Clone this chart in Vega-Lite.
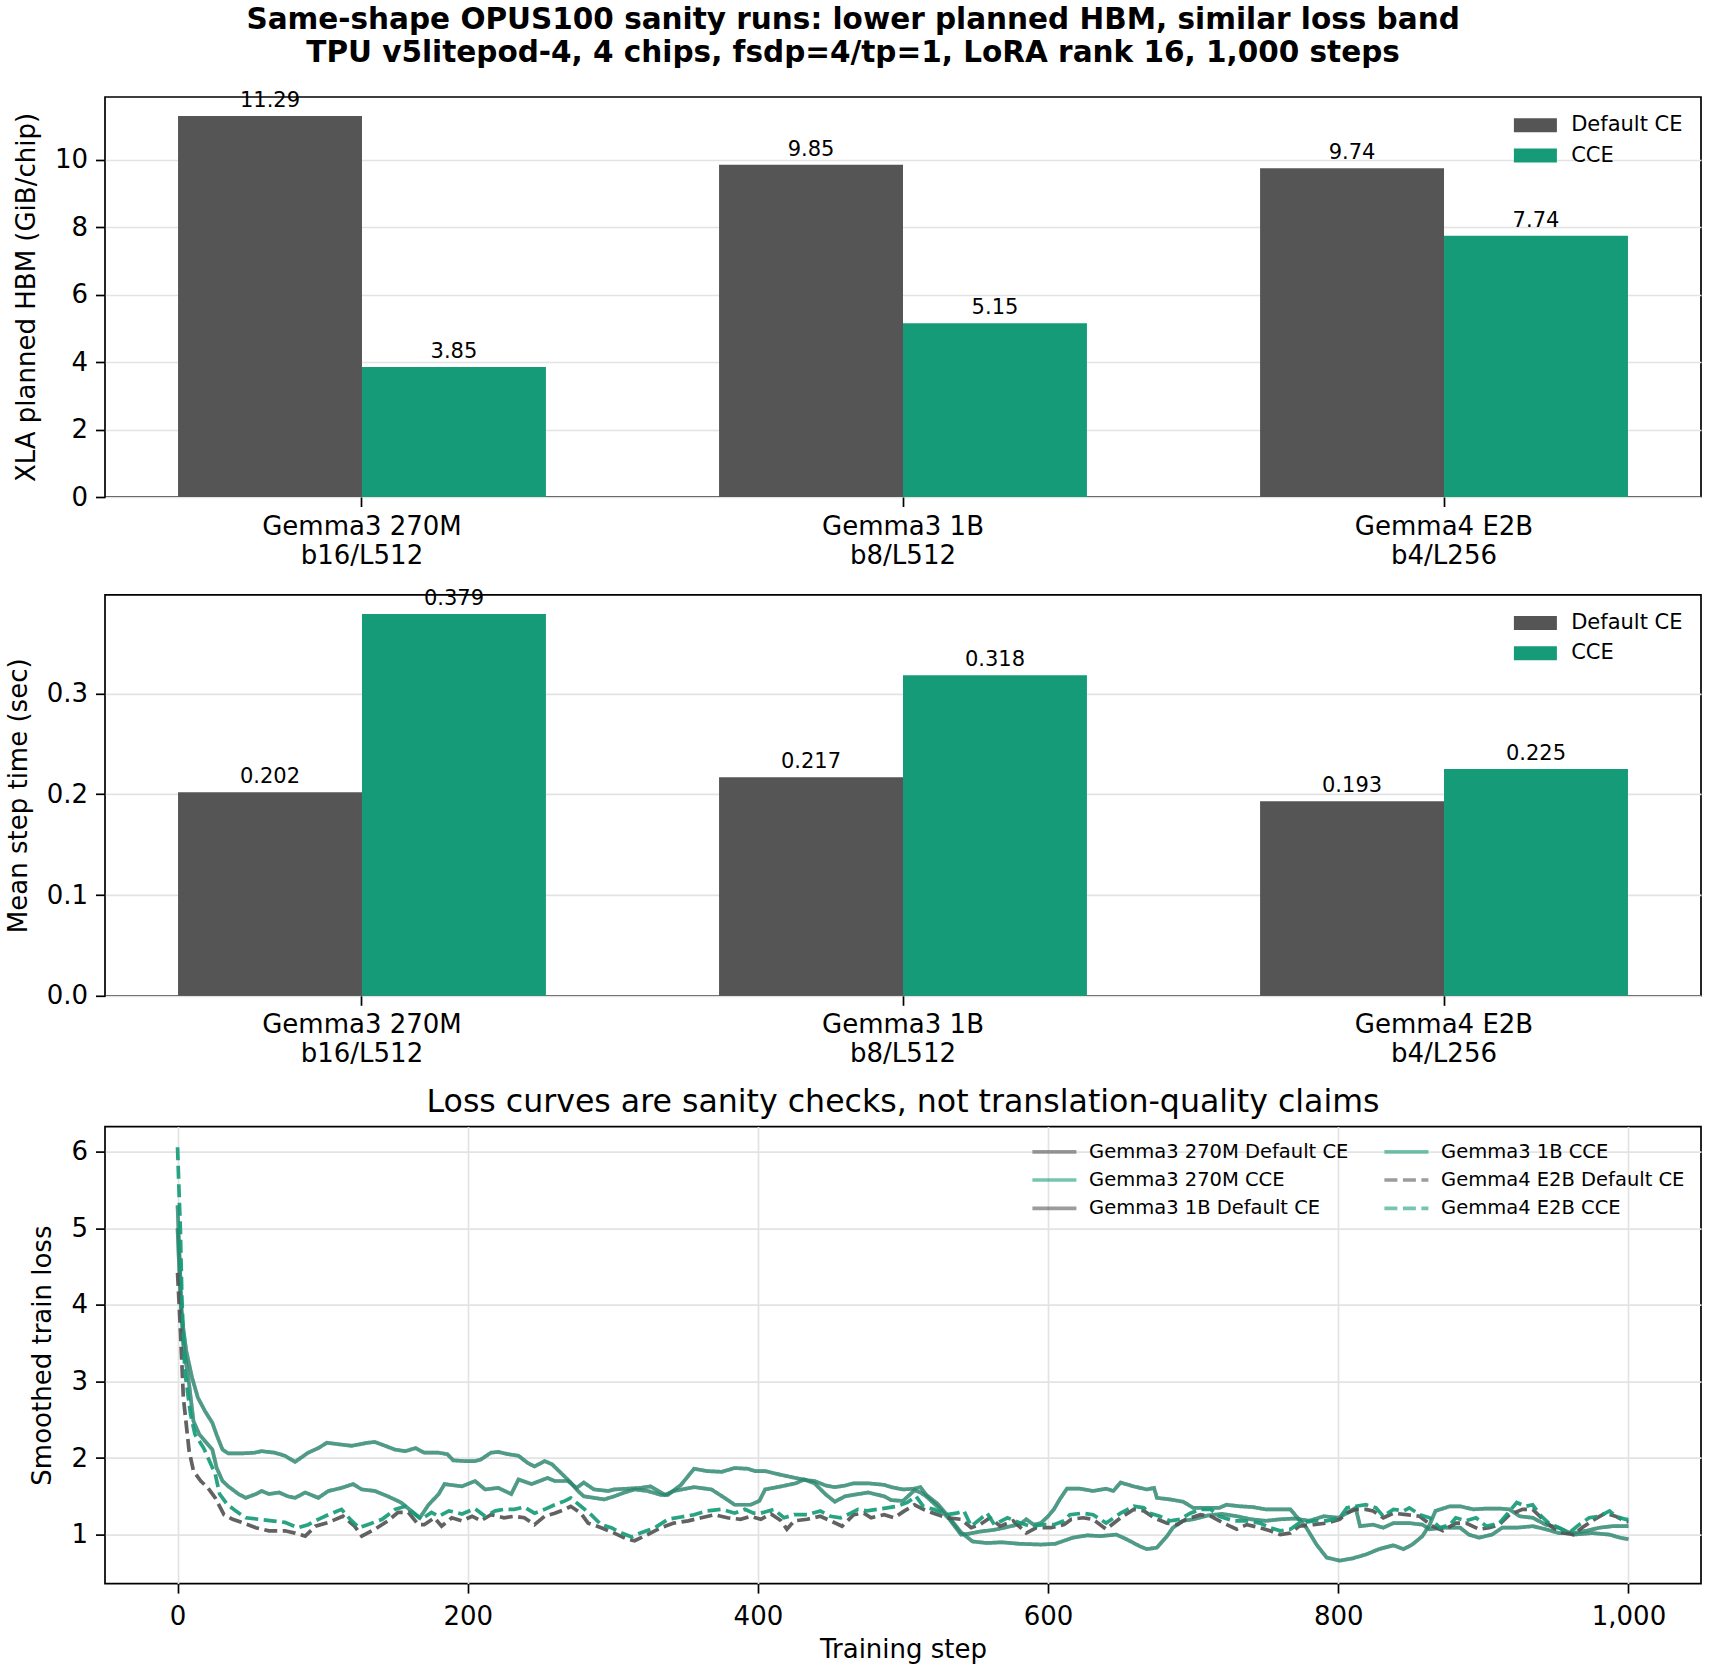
{
"$schema": "https://vega.github.io/schema/vega-lite/v6.json",
"background": "white",
"padding": {"left": 4, "right": 4, "top": 5, "bottom": 2},
"title": {"text": ["Same-shape OPUS100 sanity runs: lower planned HBM, similar loss band", "TPU v5litepod-4, 4 chips, fsdp=4/tp=1, LoRA rank 16, 1,000 steps"], "fontSize": 29.5, "fontWeight": "bold", "font": "DejaVu Sans", "color": "black", "anchor": "middle", "lineHeight": 32.7, "offset": 20.6},
"spacing": 17.8,
"resolve": {"scale": {"x": "independent", "y": "independent", "color": "independent", "xOffset": "independent", "strokeDash": "independent"}, "legend": {"color": "independent", "strokeDash": "independent"}},
"config": {
  "font": "DejaVu Sans",
  "view": {"stroke": "black", "strokeWidth": 1.7},
  "axis": {"labelFont": "DejaVu Sans", "labelFontSize": 26, "labelColor": "black", "labelLimit": 500, "titleFont": "DejaVu Sans", "titleFontSize": 26, "titleFontWeight": "normal", "titleColor": "black", "tickColor": "black", "tickSize": 9.5, "tickWidth": 1.7, "labelPadding": 8, "domain": false, "gridColor": "#e3e3e3", "gridWidth": 1.7, "titlePadding": 15},
  "legend": {"labelFont": "DejaVu Sans", "labelColor": "black", "labelLimit": 600},
  "title": {"font": "DejaVu Sans", "color": "black"}
},
"datasets": {
  "bars": [
    {"model": "Gemma3 270M|b16/L512", "loss_type": "Default CE", "hbm": 11.29, "step_time": 0.202},
    {"model": "Gemma3 270M|b16/L512", "loss_type": "CCE", "hbm": 3.85, "step_time": 0.379},
    {"model": "Gemma3 1B|b8/L512", "loss_type": "Default CE", "hbm": 9.85, "step_time": 0.217},
    {"model": "Gemma3 1B|b8/L512", "loss_type": "CCE", "hbm": 5.15, "step_time": 0.318},
    {"model": "Gemma4 E2B|b4/L256", "loss_type": "Default CE", "hbm": 9.74, "step_time": 0.193},
    {"model": "Gemma4 E2B|b4/L256", "loss_type": "CCE", "hbm": 7.74, "step_time": 0.225}
  ],
  "loss": [
{"series":"Gemma3 270M Default CE","step":0,"loss":5.3},{"series":"Gemma3 270M Default CE","step":3,"loss":3.83},{"series":"Gemma3 270M Default CE","step":6,"loss":3.4},{"series":"Gemma3 270M Default CE","step":10,"loss":3.05},{"series":"Gemma3 270M Default CE","step":14,"loss":2.79},{"series":"Gemma3 270M Default CE","step":19,"loss":2.61},{"series":"Gemma3 270M Default CE","step":24,"loss":2.46},{"series":"Gemma3 270M Default CE","step":27,"loss":2.3},{"series":"Gemma3 270M Default CE","step":31,"loss":2.11},{"series":"Gemma3 270M Default CE","step":35,"loss":2.06},{"series":"Gemma3 270M Default CE","step":44,"loss":2.06},{"series":"Gemma3 270M Default CE","step":53,"loss":2.07},{"series":"Gemma3 270M Default CE","step":58,"loss":2.09},{"series":"Gemma3 270M Default CE","step":67,"loss":2.07},{"series":"Gemma3 270M Default CE","step":74,"loss":2.03},{"series":"Gemma3 270M Default CE","step":81,"loss":1.95},{"series":"Gemma3 270M Default CE","step":90,"loss":2.07},{"series":"Gemma3 270M Default CE","step":97,"loss":2.13},{"series":"Gemma3 270M Default CE","step":103,"loss":2.2},{"series":"Gemma3 270M Default CE","step":111,"loss":2.18},{"series":"Gemma3 270M Default CE","step":120,"loss":2.16},{"series":"Gemma3 270M Default CE","step":131,"loss":2.2},{"series":"Gemma3 270M Default CE","step":136,"loss":2.21},{"series":"Gemma3 270M Default CE","step":143,"loss":2.16},{"series":"Gemma3 270M Default CE","step":150,"loss":2.11},{"series":"Gemma3 270M Default CE","step":157,"loss":2.09},{"series":"Gemma3 270M Default CE","step":164,"loss":2.13},{"series":"Gemma3 270M Default CE","step":170,"loss":2.07},{"series":"Gemma3 270M Default CE","step":180,"loss":2.07},{"series":"Gemma3 270M Default CE","step":186,"loss":2.05},{"series":"Gemma3 270M Default CE","step":190,"loss":1.97},{"series":"Gemma3 270M Default CE","step":198,"loss":1.96},{"series":"Gemma3 270M Default CE","step":205,"loss":1.96},{"series":"Gemma3 270M Default CE","step":209,"loss":1.98},{"series":"Gemma3 270M Default CE","step":216,"loss":2.07},{"series":"Gemma3 270M Default CE","step":221,"loss":2.08},{"series":"Gemma3 270M Default CE","step":228,"loss":2.05},{"series":"Gemma3 270M Default CE","step":235,"loss":2.03},{"series":"Gemma3 270M Default CE","step":241,"loss":1.94},{"series":"Gemma3 270M Default CE","step":246,"loss":1.89},{"series":"Gemma3 270M Default CE","step":253,"loss":1.96},{"series":"Gemma3 270M Default CE","step":258,"loss":1.92},{"series":"Gemma3 270M Default CE","step":264,"loss":1.81},{"series":"Gemma3 270M Default CE","step":271,"loss":1.68},{"series":"Gemma3 270M Default CE","step":276,"loss":1.57},{"series":"Gemma3 270M Default CE","step":280,"loss":1.5},{"series":"Gemma3 270M Default CE","step":287,"loss":1.48},{"series":"Gemma3 270M Default CE","step":294,"loss":1.46},{"series":"Gemma3 270M Default CE","step":301,"loss":1.5},{"series":"Gemma3 270M Default CE","step":308,"loss":1.55},{"series":"Gemma3 270M Default CE","step":315,"loss":1.59},{"series":"Gemma3 270M Default CE","step":324,"loss":1.57},{"series":"Gemma3 270M Default CE","step":333,"loss":1.52},{"series":"Gemma3 270M Default CE","step":338,"loss":1.52},{"series":"Gemma3 270M Default CE","step":347,"loss":1.65},{"series":"Gemma3 270M Default CE","step":356,"loss":1.86},{"series":"Gemma3 270M Default CE","step":365,"loss":1.83},{"series":"Gemma3 270M Default CE","step":375,"loss":1.82},{"series":"Gemma3 270M Default CE","step":384,"loss":1.87},{"series":"Gemma3 270M Default CE","step":393,"loss":1.86},{"series":"Gemma3 270M Default CE","step":398,"loss":1.83},{"series":"Gemma3 270M Default CE","step":405,"loss":1.83},{"series":"Gemma3 270M Default CE","step":416,"loss":1.78},{"series":"Gemma3 270M Default CE","step":426,"loss":1.74},{"series":"Gemma3 270M Default CE","step":434,"loss":1.71},{"series":"Gemma3 270M Default CE","step":439,"loss":1.7},{"series":"Gemma3 270M Default CE","step":447,"loss":1.64},{"series":"Gemma3 270M Default CE","step":453,"loss":1.62},{"series":"Gemma3 270M Default CE","step":460,"loss":1.64},{"series":"Gemma3 270M Default CE","step":466,"loss":1.67},{"series":"Gemma3 270M Default CE","step":476,"loss":1.67},{"series":"Gemma3 270M Default CE","step":487,"loss":1.65},{"series":"Gemma3 270M Default CE","step":492,"loss":1.62},{"series":"Gemma3 270M Default CE","step":500,"loss":1.59},{"series":"Gemma3 270M Default CE","step":508,"loss":1.6},{"series":"Gemma3 270M Default CE","step":512,"loss":1.62},{"series":"Gemma3 270M Default CE","step":516,"loss":1.52},{"series":"Gemma3 270M Default CE","step":524,"loss":1.4},{"series":"Gemma3 270M Default CE","step":532,"loss":1.22},{"series":"Gemma3 270M Default CE","step":540,"loss":1.03},{"series":"Gemma3 270M Default CE","step":548,"loss":0.91},{"series":"Gemma3 270M Default CE","step":558,"loss":0.89},{"series":"Gemma3 270M Default CE","step":568,"loss":0.9},{"series":"Gemma3 270M Default CE","step":580,"loss":0.88},{"series":"Gemma3 270M Default CE","step":595,"loss":0.87},{"series":"Gemma3 270M Default CE","step":605,"loss":0.88},{"series":"Gemma3 270M Default CE","step":617,"loss":0.96},{"series":"Gemma3 270M Default CE","step":627,"loss":0.99},{"series":"Gemma3 270M Default CE","step":636,"loss":0.98},{"series":"Gemma3 270M Default CE","step":647,"loss":1.0},{"series":"Gemma3 270M Default CE","step":654,"loss":0.94},{"series":"Gemma3 270M Default CE","step":663,"loss":0.85},{"series":"Gemma3 270M Default CE","step":668,"loss":0.81},{"series":"Gemma3 270M Default CE","step":675,"loss":0.83},{"series":"Gemma3 270M Default CE","step":682,"loss":0.98},{"series":"Gemma3 270M Default CE","step":686,"loss":1.09},{"series":"Gemma3 270M Default CE","step":693,"loss":1.18},{"series":"Gemma3 270M Default CE","step":700,"loss":1.2},{"series":"Gemma3 270M Default CE","step":710,"loss":1.25},{"series":"Gemma3 270M Default CE","step":720,"loss":1.27},{"series":"Gemma3 270M Default CE","step":730,"loss":1.24},{"series":"Gemma3 270M Default CE","step":740,"loss":1.2},{"series":"Gemma3 270M Default CE","step":750,"loss":1.18},{"series":"Gemma3 270M Default CE","step":760,"loss":1.2},{"series":"Gemma3 270M Default CE","step":770,"loss":1.21},{"series":"Gemma3 270M Default CE","step":780,"loss":1.18},{"series":"Gemma3 270M Default CE","step":790,"loss":1.24},{"series":"Gemma3 270M Default CE","step":800,"loss":1.22},{"series":"Gemma3 270M Default CE","step":805,"loss":1.27},{"series":"Gemma3 270M Default CE","step":812,"loss":1.35},{"series":"Gemma3 270M Default CE","step":815,"loss":1.11},{"series":"Gemma3 270M Default CE","step":824,"loss":1.13},{"series":"Gemma3 270M Default CE","step":831,"loss":1.09},{"series":"Gemma3 270M Default CE","step":838,"loss":1.15},{"series":"Gemma3 270M Default CE","step":849,"loss":1.15},{"series":"Gemma3 270M Default CE","step":858,"loss":1.13},{"series":"Gemma3 270M Default CE","step":863,"loss":1.07},{"series":"Gemma3 270M Default CE","step":872,"loss":1.09},{"series":"Gemma3 270M Default CE","step":884,"loss":1.09},{"series":"Gemma3 270M Default CE","step":890,"loss":1.0},{"series":"Gemma3 270M Default CE","step":897,"loss":0.96},{"series":"Gemma3 270M Default CE","step":906,"loss":1.0},{"series":"Gemma3 270M Default CE","step":913,"loss":1.09},{"series":"Gemma3 270M Default CE","step":923,"loss":1.09},{"series":"Gemma3 270M Default CE","step":934,"loss":1.11},{"series":"Gemma3 270M Default CE","step":943,"loss":1.07},{"series":"Gemma3 270M Default CE","step":952,"loss":1.02},{"series":"Gemma3 270M Default CE","step":962,"loss":1.02},{"series":"Gemma3 270M Default CE","step":971,"loss":1.05},{"series":"Gemma3 270M Default CE","step":980,"loss":1.09},{"series":"Gemma3 270M Default CE","step":989,"loss":1.11},{"series":"Gemma3 270M Default CE","step":1000,"loss":1.11},
{"series":"Gemma3 270M CCE","step":0,"loss":5.3},{"series":"Gemma3 270M CCE","step":3,"loss":3.83},{"series":"Gemma3 270M CCE","step":6,"loss":3.4},{"series":"Gemma3 270M CCE","step":10,"loss":3.05},{"series":"Gemma3 270M CCE","step":14,"loss":2.79},{"series":"Gemma3 270M CCE","step":19,"loss":2.61},{"series":"Gemma3 270M CCE","step":24,"loss":2.46},{"series":"Gemma3 270M CCE","step":27,"loss":2.3},{"series":"Gemma3 270M CCE","step":31,"loss":2.11},{"series":"Gemma3 270M CCE","step":35,"loss":2.06},{"series":"Gemma3 270M CCE","step":44,"loss":2.06},{"series":"Gemma3 270M CCE","step":53,"loss":2.07},{"series":"Gemma3 270M CCE","step":58,"loss":2.09},{"series":"Gemma3 270M CCE","step":67,"loss":2.07},{"series":"Gemma3 270M CCE","step":74,"loss":2.03},{"series":"Gemma3 270M CCE","step":81,"loss":1.95},{"series":"Gemma3 270M CCE","step":90,"loss":2.07},{"series":"Gemma3 270M CCE","step":97,"loss":2.13},{"series":"Gemma3 270M CCE","step":103,"loss":2.2},{"series":"Gemma3 270M CCE","step":111,"loss":2.18},{"series":"Gemma3 270M CCE","step":120,"loss":2.16},{"series":"Gemma3 270M CCE","step":131,"loss":2.2},{"series":"Gemma3 270M CCE","step":136,"loss":2.21},{"series":"Gemma3 270M CCE","step":143,"loss":2.16},{"series":"Gemma3 270M CCE","step":150,"loss":2.11},{"series":"Gemma3 270M CCE","step":157,"loss":2.09},{"series":"Gemma3 270M CCE","step":164,"loss":2.13},{"series":"Gemma3 270M CCE","step":170,"loss":2.07},{"series":"Gemma3 270M CCE","step":180,"loss":2.07},{"series":"Gemma3 270M CCE","step":186,"loss":2.05},{"series":"Gemma3 270M CCE","step":190,"loss":1.97},{"series":"Gemma3 270M CCE","step":198,"loss":1.96},{"series":"Gemma3 270M CCE","step":205,"loss":1.96},{"series":"Gemma3 270M CCE","step":209,"loss":1.98},{"series":"Gemma3 270M CCE","step":216,"loss":2.07},{"series":"Gemma3 270M CCE","step":221,"loss":2.08},{"series":"Gemma3 270M CCE","step":228,"loss":2.05},{"series":"Gemma3 270M CCE","step":235,"loss":2.03},{"series":"Gemma3 270M CCE","step":241,"loss":1.94},{"series":"Gemma3 270M CCE","step":246,"loss":1.89},{"series":"Gemma3 270M CCE","step":253,"loss":1.96},{"series":"Gemma3 270M CCE","step":258,"loss":1.92},{"series":"Gemma3 270M CCE","step":264,"loss":1.81},{"series":"Gemma3 270M CCE","step":271,"loss":1.68},{"series":"Gemma3 270M CCE","step":276,"loss":1.57},{"series":"Gemma3 270M CCE","step":280,"loss":1.5},{"series":"Gemma3 270M CCE","step":287,"loss":1.48},{"series":"Gemma3 270M CCE","step":294,"loss":1.46},{"series":"Gemma3 270M CCE","step":301,"loss":1.5},{"series":"Gemma3 270M CCE","step":308,"loss":1.55},{"series":"Gemma3 270M CCE","step":315,"loss":1.59},{"series":"Gemma3 270M CCE","step":324,"loss":1.57},{"series":"Gemma3 270M CCE","step":333,"loss":1.52},{"series":"Gemma3 270M CCE","step":338,"loss":1.52},{"series":"Gemma3 270M CCE","step":347,"loss":1.65},{"series":"Gemma3 270M CCE","step":356,"loss":1.86},{"series":"Gemma3 270M CCE","step":365,"loss":1.83},{"series":"Gemma3 270M CCE","step":375,"loss":1.82},{"series":"Gemma3 270M CCE","step":384,"loss":1.87},{"series":"Gemma3 270M CCE","step":393,"loss":1.86},{"series":"Gemma3 270M CCE","step":398,"loss":1.83},{"series":"Gemma3 270M CCE","step":405,"loss":1.83},{"series":"Gemma3 270M CCE","step":416,"loss":1.78},{"series":"Gemma3 270M CCE","step":426,"loss":1.74},{"series":"Gemma3 270M CCE","step":434,"loss":1.71},{"series":"Gemma3 270M CCE","step":439,"loss":1.7},{"series":"Gemma3 270M CCE","step":447,"loss":1.64},{"series":"Gemma3 270M CCE","step":453,"loss":1.62},{"series":"Gemma3 270M CCE","step":460,"loss":1.64},{"series":"Gemma3 270M CCE","step":466,"loss":1.67},{"series":"Gemma3 270M CCE","step":476,"loss":1.67},{"series":"Gemma3 270M CCE","step":487,"loss":1.65},{"series":"Gemma3 270M CCE","step":492,"loss":1.62},{"series":"Gemma3 270M CCE","step":500,"loss":1.59},{"series":"Gemma3 270M CCE","step":508,"loss":1.6},{"series":"Gemma3 270M CCE","step":512,"loss":1.62},{"series":"Gemma3 270M CCE","step":516,"loss":1.52},{"series":"Gemma3 270M CCE","step":524,"loss":1.4},{"series":"Gemma3 270M CCE","step":532,"loss":1.22},{"series":"Gemma3 270M CCE","step":540,"loss":1.03},{"series":"Gemma3 270M CCE","step":548,"loss":0.91},{"series":"Gemma3 270M CCE","step":558,"loss":0.89},{"series":"Gemma3 270M CCE","step":568,"loss":0.9},{"series":"Gemma3 270M CCE","step":580,"loss":0.88},{"series":"Gemma3 270M CCE","step":595,"loss":0.87},{"series":"Gemma3 270M CCE","step":605,"loss":0.88},{"series":"Gemma3 270M CCE","step":617,"loss":0.96},{"series":"Gemma3 270M CCE","step":627,"loss":0.99},{"series":"Gemma3 270M CCE","step":636,"loss":0.98},{"series":"Gemma3 270M CCE","step":647,"loss":1.0},{"series":"Gemma3 270M CCE","step":654,"loss":0.94},{"series":"Gemma3 270M CCE","step":663,"loss":0.85},{"series":"Gemma3 270M CCE","step":668,"loss":0.81},{"series":"Gemma3 270M CCE","step":675,"loss":0.83},{"series":"Gemma3 270M CCE","step":682,"loss":0.98},{"series":"Gemma3 270M CCE","step":686,"loss":1.09},{"series":"Gemma3 270M CCE","step":693,"loss":1.18},{"series":"Gemma3 270M CCE","step":700,"loss":1.2},{"series":"Gemma3 270M CCE","step":710,"loss":1.25},{"series":"Gemma3 270M CCE","step":720,"loss":1.27},{"series":"Gemma3 270M CCE","step":730,"loss":1.24},{"series":"Gemma3 270M CCE","step":740,"loss":1.2},{"series":"Gemma3 270M CCE","step":750,"loss":1.18},{"series":"Gemma3 270M CCE","step":760,"loss":1.2},{"series":"Gemma3 270M CCE","step":770,"loss":1.21},{"series":"Gemma3 270M CCE","step":780,"loss":1.18},{"series":"Gemma3 270M CCE","step":790,"loss":1.24},{"series":"Gemma3 270M CCE","step":800,"loss":1.22},{"series":"Gemma3 270M CCE","step":805,"loss":1.27},{"series":"Gemma3 270M CCE","step":812,"loss":1.35},{"series":"Gemma3 270M CCE","step":815,"loss":1.11},{"series":"Gemma3 270M CCE","step":824,"loss":1.13},{"series":"Gemma3 270M CCE","step":831,"loss":1.09},{"series":"Gemma3 270M CCE","step":838,"loss":1.15},{"series":"Gemma3 270M CCE","step":849,"loss":1.15},{"series":"Gemma3 270M CCE","step":858,"loss":1.13},{"series":"Gemma3 270M CCE","step":863,"loss":1.07},{"series":"Gemma3 270M CCE","step":872,"loss":1.09},{"series":"Gemma3 270M CCE","step":884,"loss":1.09},{"series":"Gemma3 270M CCE","step":890,"loss":1.0},{"series":"Gemma3 270M CCE","step":897,"loss":0.96},{"series":"Gemma3 270M CCE","step":906,"loss":1.0},{"series":"Gemma3 270M CCE","step":913,"loss":1.09},{"series":"Gemma3 270M CCE","step":923,"loss":1.09},{"series":"Gemma3 270M CCE","step":934,"loss":1.11},{"series":"Gemma3 270M CCE","step":943,"loss":1.07},{"series":"Gemma3 270M CCE","step":952,"loss":1.02},{"series":"Gemma3 270M CCE","step":962,"loss":1.02},{"series":"Gemma3 270M CCE","step":971,"loss":1.05},{"series":"Gemma3 270M CCE","step":980,"loss":1.09},{"series":"Gemma3 270M CCE","step":989,"loss":1.11},{"series":"Gemma3 270M CCE","step":1000,"loss":1.11},
{"series":"Gemma3 1B Default CE","step":0,"loss":5.0},{"series":"Gemma3 1B Default CE","step":2,"loss":4.09},{"series":"Gemma3 1B Default CE","step":4,"loss":3.48},{"series":"Gemma3 1B Default CE","step":8,"loss":2.96},{"series":"Gemma3 1B Default CE","step":11,"loss":2.48},{"series":"Gemma3 1B Default CE","step":15,"loss":2.31},{"series":"Gemma3 1B Default CE","step":19,"loss":2.22},{"series":"Gemma3 1B Default CE","step":24,"loss":2.11},{"series":"Gemma3 1B Default CE","step":27,"loss":1.87},{"series":"Gemma3 1B Default CE","step":31,"loss":1.7},{"series":"Gemma3 1B Default CE","step":35,"loss":1.63},{"series":"Gemma3 1B Default CE","step":42,"loss":1.53},{"series":"Gemma3 1B Default CE","step":47,"loss":1.48},{"series":"Gemma3 1B Default CE","step":54,"loss":1.53},{"series":"Gemma3 1B Default CE","step":58,"loss":1.57},{"series":"Gemma3 1B Default CE","step":63,"loss":1.53},{"series":"Gemma3 1B Default CE","step":70,"loss":1.55},{"series":"Gemma3 1B Default CE","step":76,"loss":1.5},{"series":"Gemma3 1B Default CE","step":81,"loss":1.48},{"series":"Gemma3 1B Default CE","step":88,"loss":1.55},{"series":"Gemma3 1B Default CE","step":97,"loss":1.48},{"series":"Gemma3 1B Default CE","step":104,"loss":1.57},{"series":"Gemma3 1B Default CE","step":113,"loss":1.61},{"series":"Gemma3 1B Default CE","step":121,"loss":1.66},{"series":"Gemma3 1B Default CE","step":127,"loss":1.59},{"series":"Gemma3 1B Default CE","step":136,"loss":1.57},{"series":"Gemma3 1B Default CE","step":145,"loss":1.5},{"series":"Gemma3 1B Default CE","step":154,"loss":1.42},{"series":"Gemma3 1B Default CE","step":161,"loss":1.31},{"series":"Gemma3 1B Default CE","step":167,"loss":1.22},{"series":"Gemma3 1B Default CE","step":173,"loss":1.39},{"series":"Gemma3 1B Default CE","step":180,"loss":1.53},{"series":"Gemma3 1B Default CE","step":184,"loss":1.66},{"series":"Gemma3 1B Default CE","step":196,"loss":1.63},{"series":"Gemma3 1B Default CE","step":205,"loss":1.7},{"series":"Gemma3 1B Default CE","step":212,"loss":1.59},{"series":"Gemma3 1B Default CE","step":221,"loss":1.61},{"series":"Gemma3 1B Default CE","step":230,"loss":1.53},{"series":"Gemma3 1B Default CE","step":235,"loss":1.72},{"series":"Gemma3 1B Default CE","step":244,"loss":1.66},{"series":"Gemma3 1B Default CE","step":255,"loss":1.74},{"series":"Gemma3 1B Default CE","step":260,"loss":1.7},{"series":"Gemma3 1B Default CE","step":269,"loss":1.7},{"series":"Gemma3 1B Default CE","step":275,"loss":1.61},{"series":"Gemma3 1B Default CE","step":280,"loss":1.68},{"series":"Gemma3 1B Default CE","step":287,"loss":1.59},{"series":"Gemma3 1B Default CE","step":297,"loss":1.57},{"series":"Gemma3 1B Default CE","step":301,"loss":1.59},{"series":"Gemma3 1B Default CE","step":310,"loss":1.6},{"series":"Gemma3 1B Default CE","step":319,"loss":1.61},{"series":"Gemma3 1B Default CE","step":326,"loss":1.63},{"series":"Gemma3 1B Default CE","step":336,"loss":1.52},{"series":"Gemma3 1B Default CE","step":342,"loss":1.57},{"series":"Gemma3 1B Default CE","step":356,"loss":1.62},{"series":"Gemma3 1B Default CE","step":368,"loss":1.59},{"series":"Gemma3 1B Default CE","step":377,"loss":1.48},{"series":"Gemma3 1B Default CE","step":384,"loss":1.39},{"series":"Gemma3 1B Default CE","step":395,"loss":1.39},{"series":"Gemma3 1B Default CE","step":401,"loss":1.44},{"series":"Gemma3 1B Default CE","step":405,"loss":1.59},{"series":"Gemma3 1B Default CE","step":416,"loss":1.63},{"series":"Gemma3 1B Default CE","step":426,"loss":1.67},{"series":"Gemma3 1B Default CE","step":432,"loss":1.72},{"series":"Gemma3 1B Default CE","step":439,"loss":1.67},{"series":"Gemma3 1B Default CE","step":447,"loss":1.52},{"series":"Gemma3 1B Default CE","step":453,"loss":1.43},{"series":"Gemma3 1B Default CE","step":460,"loss":1.5},{"series":"Gemma3 1B Default CE","step":466,"loss":1.52},{"series":"Gemma3 1B Default CE","step":476,"loss":1.55},{"series":"Gemma3 1B Default CE","step":487,"loss":1.5},{"series":"Gemma3 1B Default CE","step":492,"loss":1.45},{"series":"Gemma3 1B Default CE","step":500,"loss":1.44},{"series":"Gemma3 1B Default CE","step":508,"loss":1.58},{"series":"Gemma3 1B Default CE","step":512,"loss":1.55},{"series":"Gemma3 1B Default CE","step":516,"loss":1.5},{"series":"Gemma3 1B Default CE","step":524,"loss":1.36},{"series":"Gemma3 1B Default CE","step":532,"loss":1.2},{"series":"Gemma3 1B Default CE","step":540,"loss":1.0},{"series":"Gemma3 1B Default CE","step":545,"loss":1.01},{"series":"Gemma3 1B Default CE","step":553,"loss":1.04},{"series":"Gemma3 1B Default CE","step":562,"loss":1.06},{"series":"Gemma3 1B Default CE","step":570,"loss":1.09},{"series":"Gemma3 1B Default CE","step":581,"loss":1.14},{"series":"Gemma3 1B Default CE","step":585,"loss":1.2},{"series":"Gemma3 1B Default CE","step":590,"loss":1.13},{"series":"Gemma3 1B Default CE","step":595,"loss":1.15},{"series":"Gemma3 1B Default CE","step":600,"loss":1.24},{"series":"Gemma3 1B Default CE","step":604,"loss":1.33},{"series":"Gemma3 1B Default CE","step":608,"loss":1.46},{"series":"Gemma3 1B Default CE","step":613,"loss":1.6},{"series":"Gemma3 1B Default CE","step":622,"loss":1.6},{"series":"Gemma3 1B Default CE","step":631,"loss":1.57},{"series":"Gemma3 1B Default CE","step":640,"loss":1.6},{"series":"Gemma3 1B Default CE","step":645,"loss":1.57},{"series":"Gemma3 1B Default CE","step":650,"loss":1.68},{"series":"Gemma3 1B Default CE","step":659,"loss":1.63},{"series":"Gemma3 1B Default CE","step":668,"loss":1.59},{"series":"Gemma3 1B Default CE","step":673,"loss":1.61},{"series":"Gemma3 1B Default CE","step":675,"loss":1.48},{"series":"Gemma3 1B Default CE","step":684,"loss":1.46},{"series":"Gemma3 1B Default CE","step":693,"loss":1.43},{"series":"Gemma3 1B Default CE","step":700,"loss":1.35},{"series":"Gemma3 1B Default CE","step":709,"loss":1.35},{"series":"Gemma3 1B Default CE","step":718,"loss":1.35},{"series":"Gemma3 1B Default CE","step":723,"loss":1.39},{"series":"Gemma3 1B Default CE","step":732,"loss":1.37},{"series":"Gemma3 1B Default CE","step":741,"loss":1.36},{"series":"Gemma3 1B Default CE","step":750,"loss":1.33},{"series":"Gemma3 1B Default CE","step":760,"loss":1.33},{"series":"Gemma3 1B Default CE","step":767,"loss":1.33},{"series":"Gemma3 1B Default CE","step":771,"loss":1.24},{"series":"Gemma3 1B Default CE","step":778,"loss":1.09},{"series":"Gemma3 1B Default CE","step":785,"loss":0.87},{"series":"Gemma3 1B Default CE","step":792,"loss":0.7},{"series":"Gemma3 1B Default CE","step":801,"loss":0.66},{"series":"Gemma3 1B Default CE","step":810,"loss":0.69},{"series":"Gemma3 1B Default CE","step":819,"loss":0.74},{"series":"Gemma3 1B Default CE","step":828,"loss":0.81},{"series":"Gemma3 1B Default CE","step":838,"loss":0.86},{"series":"Gemma3 1B Default CE","step":845,"loss":0.81},{"series":"Gemma3 1B Default CE","step":851,"loss":0.87},{"series":"Gemma3 1B Default CE","step":858,"loss":0.98},{"series":"Gemma3 1B Default CE","step":863,"loss":1.13},{"series":"Gemma3 1B Default CE","step":867,"loss":1.31},{"series":"Gemma3 1B Default CE","step":877,"loss":1.37},{"series":"Gemma3 1B Default CE","step":884,"loss":1.37},{"series":"Gemma3 1B Default CE","step":893,"loss":1.33},{"series":"Gemma3 1B Default CE","step":902,"loss":1.34},{"series":"Gemma3 1B Default CE","step":911,"loss":1.34},{"series":"Gemma3 1B Default CE","step":918,"loss":1.33},{"series":"Gemma3 1B Default CE","step":925,"loss":1.24},{"series":"Gemma3 1B Default CE","step":934,"loss":1.22},{"series":"Gemma3 1B Default CE","step":943,"loss":1.13},{"series":"Gemma3 1B Default CE","step":952,"loss":1.09},{"series":"Gemma3 1B Default CE","step":962,"loss":1.0},{"series":"Gemma3 1B Default CE","step":975,"loss":1.02},{"series":"Gemma3 1B Default CE","step":987,"loss":1.0},{"series":"Gemma3 1B Default CE","step":994,"loss":0.96},{"series":"Gemma3 1B Default CE","step":1000,"loss":0.94},
{"series":"Gemma3 1B CCE","step":0,"loss":5.0},{"series":"Gemma3 1B CCE","step":2,"loss":4.09},{"series":"Gemma3 1B CCE","step":4,"loss":3.48},{"series":"Gemma3 1B CCE","step":8,"loss":2.96},{"series":"Gemma3 1B CCE","step":11,"loss":2.48},{"series":"Gemma3 1B CCE","step":15,"loss":2.31},{"series":"Gemma3 1B CCE","step":19,"loss":2.22},{"series":"Gemma3 1B CCE","step":24,"loss":2.11},{"series":"Gemma3 1B CCE","step":27,"loss":1.87},{"series":"Gemma3 1B CCE","step":31,"loss":1.7},{"series":"Gemma3 1B CCE","step":35,"loss":1.63},{"series":"Gemma3 1B CCE","step":42,"loss":1.53},{"series":"Gemma3 1B CCE","step":47,"loss":1.48},{"series":"Gemma3 1B CCE","step":54,"loss":1.53},{"series":"Gemma3 1B CCE","step":58,"loss":1.57},{"series":"Gemma3 1B CCE","step":63,"loss":1.53},{"series":"Gemma3 1B CCE","step":70,"loss":1.55},{"series":"Gemma3 1B CCE","step":76,"loss":1.5},{"series":"Gemma3 1B CCE","step":81,"loss":1.48},{"series":"Gemma3 1B CCE","step":88,"loss":1.55},{"series":"Gemma3 1B CCE","step":97,"loss":1.48},{"series":"Gemma3 1B CCE","step":104,"loss":1.57},{"series":"Gemma3 1B CCE","step":113,"loss":1.61},{"series":"Gemma3 1B CCE","step":121,"loss":1.66},{"series":"Gemma3 1B CCE","step":127,"loss":1.59},{"series":"Gemma3 1B CCE","step":136,"loss":1.57},{"series":"Gemma3 1B CCE","step":145,"loss":1.5},{"series":"Gemma3 1B CCE","step":154,"loss":1.42},{"series":"Gemma3 1B CCE","step":161,"loss":1.31},{"series":"Gemma3 1B CCE","step":167,"loss":1.22},{"series":"Gemma3 1B CCE","step":173,"loss":1.39},{"series":"Gemma3 1B CCE","step":180,"loss":1.53},{"series":"Gemma3 1B CCE","step":184,"loss":1.66},{"series":"Gemma3 1B CCE","step":196,"loss":1.63},{"series":"Gemma3 1B CCE","step":205,"loss":1.7},{"series":"Gemma3 1B CCE","step":212,"loss":1.59},{"series":"Gemma3 1B CCE","step":221,"loss":1.61},{"series":"Gemma3 1B CCE","step":230,"loss":1.53},{"series":"Gemma3 1B CCE","step":235,"loss":1.72},{"series":"Gemma3 1B CCE","step":244,"loss":1.66},{"series":"Gemma3 1B CCE","step":255,"loss":1.74},{"series":"Gemma3 1B CCE","step":260,"loss":1.7},{"series":"Gemma3 1B CCE","step":269,"loss":1.7},{"series":"Gemma3 1B CCE","step":275,"loss":1.61},{"series":"Gemma3 1B CCE","step":280,"loss":1.68},{"series":"Gemma3 1B CCE","step":287,"loss":1.59},{"series":"Gemma3 1B CCE","step":297,"loss":1.57},{"series":"Gemma3 1B CCE","step":301,"loss":1.59},{"series":"Gemma3 1B CCE","step":310,"loss":1.6},{"series":"Gemma3 1B CCE","step":319,"loss":1.61},{"series":"Gemma3 1B CCE","step":326,"loss":1.63},{"series":"Gemma3 1B CCE","step":336,"loss":1.52},{"series":"Gemma3 1B CCE","step":342,"loss":1.57},{"series":"Gemma3 1B CCE","step":356,"loss":1.62},{"series":"Gemma3 1B CCE","step":368,"loss":1.59},{"series":"Gemma3 1B CCE","step":377,"loss":1.48},{"series":"Gemma3 1B CCE","step":384,"loss":1.39},{"series":"Gemma3 1B CCE","step":395,"loss":1.39},{"series":"Gemma3 1B CCE","step":401,"loss":1.44},{"series":"Gemma3 1B CCE","step":405,"loss":1.59},{"series":"Gemma3 1B CCE","step":416,"loss":1.63},{"series":"Gemma3 1B CCE","step":426,"loss":1.67},{"series":"Gemma3 1B CCE","step":432,"loss":1.72},{"series":"Gemma3 1B CCE","step":439,"loss":1.67},{"series":"Gemma3 1B CCE","step":447,"loss":1.52},{"series":"Gemma3 1B CCE","step":453,"loss":1.43},{"series":"Gemma3 1B CCE","step":460,"loss":1.5},{"series":"Gemma3 1B CCE","step":466,"loss":1.52},{"series":"Gemma3 1B CCE","step":476,"loss":1.55},{"series":"Gemma3 1B CCE","step":487,"loss":1.5},{"series":"Gemma3 1B CCE","step":492,"loss":1.45},{"series":"Gemma3 1B CCE","step":500,"loss":1.44},{"series":"Gemma3 1B CCE","step":508,"loss":1.58},{"series":"Gemma3 1B CCE","step":512,"loss":1.55},{"series":"Gemma3 1B CCE","step":516,"loss":1.5},{"series":"Gemma3 1B CCE","step":524,"loss":1.36},{"series":"Gemma3 1B CCE","step":532,"loss":1.2},{"series":"Gemma3 1B CCE","step":540,"loss":1.0},{"series":"Gemma3 1B CCE","step":545,"loss":1.01},{"series":"Gemma3 1B CCE","step":553,"loss":1.04},{"series":"Gemma3 1B CCE","step":562,"loss":1.06},{"series":"Gemma3 1B CCE","step":570,"loss":1.09},{"series":"Gemma3 1B CCE","step":581,"loss":1.14},{"series":"Gemma3 1B CCE","step":585,"loss":1.2},{"series":"Gemma3 1B CCE","step":590,"loss":1.13},{"series":"Gemma3 1B CCE","step":595,"loss":1.15},{"series":"Gemma3 1B CCE","step":600,"loss":1.24},{"series":"Gemma3 1B CCE","step":604,"loss":1.33},{"series":"Gemma3 1B CCE","step":608,"loss":1.46},{"series":"Gemma3 1B CCE","step":613,"loss":1.6},{"series":"Gemma3 1B CCE","step":622,"loss":1.6},{"series":"Gemma3 1B CCE","step":631,"loss":1.57},{"series":"Gemma3 1B CCE","step":640,"loss":1.6},{"series":"Gemma3 1B CCE","step":645,"loss":1.57},{"series":"Gemma3 1B CCE","step":650,"loss":1.68},{"series":"Gemma3 1B CCE","step":659,"loss":1.63},{"series":"Gemma3 1B CCE","step":668,"loss":1.59},{"series":"Gemma3 1B CCE","step":673,"loss":1.61},{"series":"Gemma3 1B CCE","step":675,"loss":1.48},{"series":"Gemma3 1B CCE","step":684,"loss":1.46},{"series":"Gemma3 1B CCE","step":693,"loss":1.43},{"series":"Gemma3 1B CCE","step":700,"loss":1.35},{"series":"Gemma3 1B CCE","step":709,"loss":1.35},{"series":"Gemma3 1B CCE","step":718,"loss":1.35},{"series":"Gemma3 1B CCE","step":723,"loss":1.39},{"series":"Gemma3 1B CCE","step":732,"loss":1.37},{"series":"Gemma3 1B CCE","step":741,"loss":1.36},{"series":"Gemma3 1B CCE","step":750,"loss":1.33},{"series":"Gemma3 1B CCE","step":760,"loss":1.33},{"series":"Gemma3 1B CCE","step":767,"loss":1.33},{"series":"Gemma3 1B CCE","step":771,"loss":1.24},{"series":"Gemma3 1B CCE","step":778,"loss":1.09},{"series":"Gemma3 1B CCE","step":785,"loss":0.87},{"series":"Gemma3 1B CCE","step":792,"loss":0.7},{"series":"Gemma3 1B CCE","step":801,"loss":0.66},{"series":"Gemma3 1B CCE","step":810,"loss":0.69},{"series":"Gemma3 1B CCE","step":819,"loss":0.74},{"series":"Gemma3 1B CCE","step":828,"loss":0.81},{"series":"Gemma3 1B CCE","step":838,"loss":0.86},{"series":"Gemma3 1B CCE","step":845,"loss":0.81},{"series":"Gemma3 1B CCE","step":851,"loss":0.87},{"series":"Gemma3 1B CCE","step":858,"loss":0.98},{"series":"Gemma3 1B CCE","step":863,"loss":1.13},{"series":"Gemma3 1B CCE","step":867,"loss":1.31},{"series":"Gemma3 1B CCE","step":877,"loss":1.37},{"series":"Gemma3 1B CCE","step":884,"loss":1.37},{"series":"Gemma3 1B CCE","step":893,"loss":1.33},{"series":"Gemma3 1B CCE","step":902,"loss":1.34},{"series":"Gemma3 1B CCE","step":911,"loss":1.34},{"series":"Gemma3 1B CCE","step":918,"loss":1.33},{"series":"Gemma3 1B CCE","step":925,"loss":1.24},{"series":"Gemma3 1B CCE","step":934,"loss":1.22},{"series":"Gemma3 1B CCE","step":943,"loss":1.13},{"series":"Gemma3 1B CCE","step":952,"loss":1.09},{"series":"Gemma3 1B CCE","step":962,"loss":1.0},{"series":"Gemma3 1B CCE","step":975,"loss":1.02},{"series":"Gemma3 1B CCE","step":987,"loss":1.0},{"series":"Gemma3 1B CCE","step":994,"loss":0.96},{"series":"Gemma3 1B CCE","step":1000,"loss":0.94},
{"series":"Gemma4 E2B Default CE","step":0,"loss":4.42},{"series":"Gemma4 E2B Default CE","step":2,"loss":3.66},{"series":"Gemma4 E2B Default CE","step":4,"loss":2.79},{"series":"Gemma4 E2B Default CE","step":8,"loss":2.09},{"series":"Gemma4 E2B Default CE","step":11,"loss":1.83},{"series":"Gemma4 E2B Default CE","step":16,"loss":1.7},{"series":"Gemma4 E2B Default CE","step":21,"loss":1.61},{"series":"Gemma4 E2B Default CE","step":26,"loss":1.48},{"series":"Gemma4 E2B Default CE","step":32,"loss":1.26},{"series":"Gemma4 E2B Default CE","step":38,"loss":1.2},{"series":"Gemma4 E2B Default CE","step":44,"loss":1.16},{"series":"Gemma4 E2B Default CE","step":54,"loss":1.09},{"series":"Gemma4 E2B Default CE","step":63,"loss":1.05},{"series":"Gemma4 E2B Default CE","step":74,"loss":1.05},{"series":"Gemma4 E2B Default CE","step":81,"loss":1.02},{"series":"Gemma4 E2B Default CE","step":88,"loss":0.98},{"series":"Gemma4 E2B Default CE","step":95,"loss":1.11},{"series":"Gemma4 E2B Default CE","step":104,"loss":1.16},{"series":"Gemma4 E2B Default CE","step":114,"loss":1.24},{"series":"Gemma4 E2B Default CE","step":122,"loss":1.11},{"series":"Gemma4 E2B Default CE","step":127,"loss":0.98},{"series":"Gemma4 E2B Default CE","step":136,"loss":1.07},{"series":"Gemma4 E2B Default CE","step":145,"loss":1.18},{"series":"Gemma4 E2B Default CE","step":152,"loss":1.29},{"series":"Gemma4 E2B Default CE","step":159,"loss":1.29},{"series":"Gemma4 E2B Default CE","step":166,"loss":1.13},{"series":"Gemma4 E2B Default CE","step":170,"loss":1.13},{"series":"Gemma4 E2B Default CE","step":177,"loss":1.22},{"series":"Gemma4 E2B Default CE","step":182,"loss":1.11},{"series":"Gemma4 E2B Default CE","step":189,"loss":1.22},{"series":"Gemma4 E2B Default CE","step":196,"loss":1.18},{"series":"Gemma4 E2B Default CE","step":203,"loss":1.24},{"series":"Gemma4 E2B Default CE","step":209,"loss":1.18},{"series":"Gemma4 E2B Default CE","step":216,"loss":1.26},{"series":"Gemma4 E2B Default CE","step":225,"loss":1.22},{"series":"Gemma4 E2B Default CE","step":232,"loss":1.24},{"series":"Gemma4 E2B Default CE","step":239,"loss":1.22},{"series":"Gemma4 E2B Default CE","step":246,"loss":1.13},{"series":"Gemma4 E2B Default CE","step":253,"loss":1.24},{"series":"Gemma4 E2B Default CE","step":260,"loss":1.28},{"series":"Gemma4 E2B Default CE","step":267,"loss":1.33},{"series":"Gemma4 E2B Default CE","step":271,"loss":1.37},{"series":"Gemma4 E2B Default CE","step":278,"loss":1.28},{"series":"Gemma4 E2B Default CE","step":283,"loss":1.15},{"series":"Gemma4 E2B Default CE","step":292,"loss":1.09},{"series":"Gemma4 E2B Default CE","step":301,"loss":1.02},{"series":"Gemma4 E2B Default CE","step":310,"loss":0.94},{"series":"Gemma4 E2B Default CE","step":315,"loss":0.92},{"series":"Gemma4 E2B Default CE","step":324,"loss":1.0},{"series":"Gemma4 E2B Default CE","step":333,"loss":1.09},{"series":"Gemma4 E2B Default CE","step":342,"loss":1.15},{"series":"Gemma4 E2B Default CE","step":352,"loss":1.18},{"series":"Gemma4 E2B Default CE","step":361,"loss":1.22},{"series":"Gemma4 E2B Default CE","step":370,"loss":1.26},{"series":"Gemma4 E2B Default CE","step":379,"loss":1.22},{"series":"Gemma4 E2B Default CE","step":388,"loss":1.2},{"series":"Gemma4 E2B Default CE","step":395,"loss":1.24},{"series":"Gemma4 E2B Default CE","step":402,"loss":1.2},{"series":"Gemma4 E2B Default CE","step":409,"loss":1.27},{"series":"Gemma4 E2B Default CE","step":416,"loss":1.18},{"series":"Gemma4 E2B Default CE","step":420,"loss":1.07},{"series":"Gemma4 E2B Default CE","step":425,"loss":1.18},{"series":"Gemma4 E2B Default CE","step":434,"loss":1.2},{"series":"Gemma4 E2B Default CE","step":443,"loss":1.24},{"series":"Gemma4 E2B Default CE","step":450,"loss":1.18},{"series":"Gemma4 E2B Default CE","step":458,"loss":1.11},{"series":"Gemma4 E2B Default CE","step":466,"loss":1.26},{"series":"Gemma4 E2B Default CE","step":473,"loss":1.28},{"series":"Gemma4 E2B Default CE","step":478,"loss":1.22},{"series":"Gemma4 E2B Default CE","step":487,"loss":1.26},{"series":"Gemma4 E2B Default CE","step":494,"loss":1.22},{"series":"Gemma4 E2B Default CE","step":501,"loss":1.31},{"series":"Gemma4 E2B Default CE","step":508,"loss":1.39},{"series":"Gemma4 E2B Default CE","step":514,"loss":1.33},{"series":"Gemma4 E2B Default CE","step":521,"loss":1.28},{"series":"Gemma4 E2B Default CE","step":530,"loss":1.22},{"series":"Gemma4 E2B Default CE","step":540,"loss":1.2},{"series":"Gemma4 E2B Default CE","step":547,"loss":1.09},{"series":"Gemma4 E2B Default CE","step":553,"loss":1.13},{"series":"Gemma4 E2B Default CE","step":560,"loss":1.22},{"series":"Gemma4 E2B Default CE","step":567,"loss":1.11},{"series":"Gemma4 E2B Default CE","step":576,"loss":1.18},{"series":"Gemma4 E2B Default CE","step":585,"loss":1.02},{"series":"Gemma4 E2B Default CE","step":592,"loss":1.09},{"series":"Gemma4 E2B Default CE","step":602,"loss":1.09},{"series":"Gemma4 E2B Default CE","step":611,"loss":1.13},{"series":"Gemma4 E2B Default CE","step":616,"loss":1.2},{"series":"Gemma4 E2B Default CE","step":624,"loss":1.22},{"series":"Gemma4 E2B Default CE","step":631,"loss":1.2},{"series":"Gemma4 E2B Default CE","step":640,"loss":1.07},{"series":"Gemma4 E2B Default CE","step":650,"loss":1.22},{"series":"Gemma4 E2B Default CE","step":659,"loss":1.33},{"series":"Gemma4 E2B Default CE","step":666,"loss":1.31},{"series":"Gemma4 E2B Default CE","step":673,"loss":1.22},{"series":"Gemma4 E2B Default CE","step":682,"loss":1.15},{"series":"Gemma4 E2B Default CE","step":689,"loss":1.13},{"series":"Gemma4 E2B Default CE","step":695,"loss":1.2},{"series":"Gemma4 E2B Default CE","step":705,"loss":1.26},{"series":"Gemma4 E2B Default CE","step":712,"loss":1.24},{"series":"Gemma4 E2B Default CE","step":721,"loss":1.15},{"series":"Gemma4 E2B Default CE","step":730,"loss":1.07},{"series":"Gemma4 E2B Default CE","step":737,"loss":1.13},{"series":"Gemma4 E2B Default CE","step":746,"loss":1.09},{"series":"Gemma4 E2B Default CE","step":753,"loss":1.05},{"series":"Gemma4 E2B Default CE","step":760,"loss":1.0},{"series":"Gemma4 E2B Default CE","step":767,"loss":1.02},{"series":"Gemma4 E2B Default CE","step":773,"loss":1.11},{"series":"Gemma4 E2B Default CE","step":783,"loss":1.13},{"series":"Gemma4 E2B Default CE","step":792,"loss":1.15},{"series":"Gemma4 E2B Default CE","step":801,"loss":1.2},{"series":"Gemma4 E2B Default CE","step":806,"loss":1.28},{"series":"Gemma4 E2B Default CE","step":812,"loss":1.33},{"series":"Gemma4 E2B Default CE","step":819,"loss":1.33},{"series":"Gemma4 E2B Default CE","step":824,"loss":1.31},{"series":"Gemma4 E2B Default CE","step":831,"loss":1.22},{"series":"Gemma4 E2B Default CE","step":838,"loss":1.28},{"series":"Gemma4 E2B Default CE","step":847,"loss":1.26},{"series":"Gemma4 E2B Default CE","step":856,"loss":1.24},{"series":"Gemma4 E2B Default CE","step":865,"loss":1.11},{"series":"Gemma4 E2B Default CE","step":872,"loss":1.05},{"series":"Gemma4 E2B Default CE","step":881,"loss":1.15},{"series":"Gemma4 E2B Default CE","step":888,"loss":1.15},{"series":"Gemma4 E2B Default CE","step":897,"loss":1.07},{"series":"Gemma4 E2B Default CE","step":904,"loss":1.09},{"series":"Gemma4 E2B Default CE","step":911,"loss":1.13},{"series":"Gemma4 E2B Default CE","step":918,"loss":1.26},{"series":"Gemma4 E2B Default CE","step":927,"loss":1.33},{"series":"Gemma4 E2B Default CE","step":934,"loss":1.33},{"series":"Gemma4 E2B Default CE","step":941,"loss":1.2},{"series":"Gemma4 E2B Default CE","step":948,"loss":1.09},{"series":"Gemma4 E2B Default CE","step":955,"loss":1.02},{"series":"Gemma4 E2B Default CE","step":962,"loss":1.0},{"series":"Gemma4 E2B Default CE","step":968,"loss":1.09},{"series":"Gemma4 E2B Default CE","step":975,"loss":1.18},{"series":"Gemma4 E2B Default CE","step":984,"loss":1.28},{"series":"Gemma4 E2B Default CE","step":991,"loss":1.24},{"series":"Gemma4 E2B Default CE","step":998,"loss":1.17},{"series":"Gemma4 E2B Default CE","step":1000,"loss":1.17},
{"series":"Gemma4 E2B CCE","step":0,"loss":6.06},{"series":"Gemma4 E2B CCE","step":1,"loss":5.5},{"series":"Gemma4 E2B CCE","step":2,"loss":4.96},{"series":"Gemma4 E2B CCE","step":3,"loss":4.09},{"series":"Gemma4 E2B CCE","step":5,"loss":3.13},{"series":"Gemma4 E2B CCE","step":9,"loss":2.57},{"series":"Gemma4 E2B CCE","step":12,"loss":2.31},{"series":"Gemma4 E2B CCE","step":18,"loss":2.13},{"series":"Gemma4 E2B CCE","step":22,"loss":1.96},{"series":"Gemma4 E2B CCE","step":26,"loss":1.79},{"series":"Gemma4 E2B CCE","step":29,"loss":1.53},{"series":"Gemma4 E2B CCE","step":34,"loss":1.4},{"series":"Gemma4 E2B CCE","step":40,"loss":1.31},{"series":"Gemma4 E2B CCE","step":47,"loss":1.22},{"series":"Gemma4 E2B CCE","step":56,"loss":1.2},{"series":"Gemma4 E2B CCE","step":65,"loss":1.18},{"series":"Gemma4 E2B CCE","step":74,"loss":1.16},{"series":"Gemma4 E2B CCE","step":83,"loss":1.09},{"series":"Gemma4 E2B CCE","step":90,"loss":1.13},{"series":"Gemma4 E2B CCE","step":97,"loss":1.2},{"series":"Gemma4 E2B CCE","step":104,"loss":1.26},{"series":"Gemma4 E2B CCE","step":113,"loss":1.33},{"series":"Gemma4 E2B CCE","step":119,"loss":1.2},{"series":"Gemma4 E2B CCE","step":125,"loss":1.09},{"series":"Gemma4 E2B CCE","step":131,"loss":1.13},{"series":"Gemma4 E2B CCE","step":141,"loss":1.2},{"series":"Gemma4 E2B CCE","step":150,"loss":1.33},{"series":"Gemma4 E2B CCE","step":157,"loss":1.37},{"series":"Gemma4 E2B CCE","step":164,"loss":1.26},{"series":"Gemma4 E2B CCE","step":168,"loss":1.2},{"series":"Gemma4 E2B CCE","step":175,"loss":1.29},{"series":"Gemma4 E2B CCE","step":180,"loss":1.24},{"series":"Gemma4 E2B CCE","step":187,"loss":1.31},{"series":"Gemma4 E2B CCE","step":196,"loss":1.27},{"series":"Gemma4 E2B CCE","step":205,"loss":1.34},{"series":"Gemma4 E2B CCE","step":212,"loss":1.24},{"series":"Gemma4 E2B CCE","step":219,"loss":1.31},{"series":"Gemma4 E2B CCE","step":225,"loss":1.33},{"series":"Gemma4 E2B CCE","step":232,"loss":1.33},{"series":"Gemma4 E2B CCE","step":239,"loss":1.36},{"series":"Gemma4 E2B CCE","step":246,"loss":1.28},{"series":"Gemma4 E2B CCE","step":253,"loss":1.33},{"series":"Gemma4 E2B CCE","step":260,"loss":1.39},{"series":"Gemma4 E2B CCE","step":267,"loss":1.44},{"series":"Gemma4 E2B CCE","step":271,"loss":1.48},{"series":"Gemma4 E2B CCE","step":278,"loss":1.37},{"series":"Gemma4 E2B CCE","step":285,"loss":1.26},{"series":"Gemma4 E2B CCE","step":292,"loss":1.13},{"series":"Gemma4 E2B CCE","step":299,"loss":1.09},{"series":"Gemma4 E2B CCE","step":306,"loss":1.02},{"series":"Gemma4 E2B CCE","step":313,"loss":0.97},{"series":"Gemma4 E2B CCE","step":319,"loss":1.02},{"series":"Gemma4 E2B CCE","step":329,"loss":1.09},{"series":"Gemma4 E2B CCE","step":338,"loss":1.2},{"series":"Gemma4 E2B CCE","step":347,"loss":1.23},{"series":"Gemma4 E2B CCE","step":356,"loss":1.26},{"series":"Gemma4 E2B CCE","step":365,"loss":1.31},{"series":"Gemma4 E2B CCE","step":375,"loss":1.33},{"series":"Gemma4 E2B CCE","step":384,"loss":1.28},{"series":"Gemma4 E2B CCE","step":391,"loss":1.33},{"series":"Gemma4 E2B CCE","step":397,"loss":1.28},{"series":"Gemma4 E2B CCE","step":402,"loss":1.28},{"series":"Gemma4 E2B CCE","step":411,"loss":1.33},{"series":"Gemma4 E2B CCE","step":418,"loss":1.22},{"series":"Gemma4 E2B CCE","step":425,"loss":1.26},{"series":"Gemma4 E2B CCE","step":434,"loss":1.26},{"series":"Gemma4 E2B CCE","step":443,"loss":1.31},{"series":"Gemma4 E2B CCE","step":450,"loss":1.24},{"series":"Gemma4 E2B CCE","step":457,"loss":1.22},{"series":"Gemma4 E2B CCE","step":464,"loss":1.28},{"series":"Gemma4 E2B CCE","step":469,"loss":1.33},{"series":"Gemma4 E2B CCE","step":475,"loss":1.31},{"series":"Gemma4 E2B CCE","step":482,"loss":1.33},{"series":"Gemma4 E2B CCE","step":489,"loss":1.35},{"series":"Gemma4 E2B CCE","step":496,"loss":1.37},{"series":"Gemma4 E2B CCE","step":503,"loss":1.42},{"series":"Gemma4 E2B CCE","step":509,"loss":1.5},{"series":"Gemma4 E2B CCE","step":514,"loss":1.37},{"series":"Gemma4 E2B CCE","step":521,"loss":1.33},{"series":"Gemma4 E2B CCE","step":530,"loss":1.26},{"series":"Gemma4 E2B CCE","step":537,"loss":1.28},{"series":"Gemma4 E2B CCE","step":542,"loss":1.31},{"series":"Gemma4 E2B CCE","step":547,"loss":1.11},{"series":"Gemma4 E2B CCE","step":553,"loss":1.2},{"series":"Gemma4 E2B CCE","step":558,"loss":1.28},{"series":"Gemma4 E2B CCE","step":563,"loss":1.13},{"series":"Gemma4 E2B CCE","step":572,"loss":1.22},{"series":"Gemma4 E2B CCE","step":581,"loss":1.15},{"series":"Gemma4 E2B CCE","step":588,"loss":1.11},{"series":"Gemma4 E2B CCE","step":597,"loss":1.13},{"series":"Gemma4 E2B CCE","step":604,"loss":1.13},{"series":"Gemma4 E2B CCE","step":611,"loss":1.18},{"series":"Gemma4 E2B CCE","step":615,"loss":1.26},{"series":"Gemma4 E2B CCE","step":624,"loss":1.28},{"series":"Gemma4 E2B CCE","step":631,"loss":1.26},{"series":"Gemma4 E2B CCE","step":640,"loss":1.15},{"series":"Gemma4 E2B CCE","step":650,"loss":1.28},{"series":"Gemma4 E2B CCE","step":659,"loss":1.37},{"series":"Gemma4 E2B CCE","step":666,"loss":1.35},{"series":"Gemma4 E2B CCE","step":670,"loss":1.28},{"series":"Gemma4 E2B CCE","step":677,"loss":1.24},{"series":"Gemma4 E2B CCE","step":684,"loss":1.18},{"series":"Gemma4 E2B CCE","step":691,"loss":1.2},{"series":"Gemma4 E2B CCE","step":698,"loss":1.28},{"series":"Gemma4 E2B CCE","step":705,"loss":1.33},{"series":"Gemma4 E2B CCE","step":712,"loss":1.33},{"series":"Gemma4 E2B CCE","step":718,"loss":1.24},{"series":"Gemma4 E2B CCE","step":728,"loss":1.18},{"series":"Gemma4 E2B CCE","step":737,"loss":1.18},{"series":"Gemma4 E2B CCE","step":746,"loss":1.15},{"series":"Gemma4 E2B CCE","step":753,"loss":1.09},{"series":"Gemma4 E2B CCE","step":760,"loss":1.05},{"series":"Gemma4 E2B CCE","step":767,"loss":1.07},{"series":"Gemma4 E2B CCE","step":773,"loss":1.15},{"series":"Gemma4 E2B CCE","step":783,"loss":1.18},{"series":"Gemma4 E2B CCE","step":792,"loss":1.18},{"series":"Gemma4 E2B CCE","step":801,"loss":1.22},{"series":"Gemma4 E2B CCE","step":806,"loss":1.35},{"series":"Gemma4 E2B CCE","step":812,"loss":1.37},{"series":"Gemma4 E2B CCE","step":819,"loss":1.39},{"series":"Gemma4 E2B CCE","step":826,"loss":1.35},{"series":"Gemma4 E2B CCE","step":831,"loss":1.24},{"series":"Gemma4 E2B CCE","step":838,"loss":1.33},{"series":"Gemma4 E2B CCE","step":845,"loss":1.31},{"series":"Gemma4 E2B CCE","step":849,"loss":1.35},{"series":"Gemma4 E2B CCE","step":856,"loss":1.26},{"series":"Gemma4 E2B CCE","step":863,"loss":1.22},{"series":"Gemma4 E2B CCE","step":870,"loss":1.09},{"series":"Gemma4 E2B CCE","step":877,"loss":1.13},{"series":"Gemma4 E2B CCE","step":881,"loss":1.22},{"series":"Gemma4 E2B CCE","step":888,"loss":1.18},{"series":"Gemma4 E2B CCE","step":895,"loss":1.22},{"series":"Gemma4 E2B CCE","step":902,"loss":1.11},{"series":"Gemma4 E2B CCE","step":911,"loss":1.15},{"series":"Gemma4 E2B CCE","step":916,"loss":1.26},{"series":"Gemma4 E2B CCE","step":923,"loss":1.42},{"series":"Gemma4 E2B CCE","step":929,"loss":1.37},{"series":"Gemma4 E2B CCE","step":934,"loss":1.39},{"series":"Gemma4 E2B CCE","step":939,"loss":1.26},{"series":"Gemma4 E2B CCE","step":945,"loss":1.15},{"series":"Gemma4 E2B CCE","step":952,"loss":1.09},{"series":"Gemma4 E2B CCE","step":959,"loss":1.02},{"series":"Gemma4 E2B CCE","step":966,"loss":1.13},{"series":"Gemma4 E2B CCE","step":973,"loss":1.22},{"series":"Gemma4 E2B CCE","step":980,"loss":1.24},{"series":"Gemma4 E2B CCE","step":987,"loss":1.31},{"series":"Gemma4 E2B CCE","step":991,"loss":1.24},{"series":"Gemma4 E2B CCE","step":998,"loss":1.2},{"series":"Gemma4 E2B CCE","step":1000,"loss":1.2}
  ]
},
"vconcat": [
  {
    "width": 1596, "height": 400,
    "data": {"name": "bars"},
    "encoding": {
      "x": {"field": "model", "type": "nominal", "sort": null, "scale": {"paddingInner": 0.32, "paddingOuter": 0.135}, "axis": {"title": null, "labelAngle": 0, "labelExpr": "split(datum.label, '|')", "labelLineHeight": 29, "labelBaseline": "top", "labelPadding": 6.5, "grid": false}},
      "xOffset": {"field": "loss_type", "type": "nominal", "sort": ["Default CE", "CCE"]},
      "y": {"field": "hbm", "type": "quantitative", "scale": {"domain": [0, 11.8545], "nice": false}, "axis": {"title": "XLA planned HBM (GiB/chip)", "values": [0, 2, 4, 6, 8, 10], "grid": true}}
    },
    "layer": [
      {"mark": {"type": "bar"}, "encoding": {"color": {"field": "loss_type", "type": "nominal", "scale": {"domain": ["Default CE", "CCE"], "range": ["#555555", "#169b79"]}, "legend": {"title": null, "orient": "none", "legendX": 1419.9, "legendY": 17.7, "symbolType": "M-2.15,-0.7H2.15V0.7H-2.15Z", "symbolSize": 400, "symbolStrokeWidth": 0, "symbolOpacity": 1, "labelFontSize": 21, "labelOffset": 25.3, "rowPadding": 8.3, "padding": 0}}}},
      {"mark": {"type": "text", "baseline": "alphabetic", "dy": -9, "fontSize": 21, "color": "black"}, "encoding": {"text": {"field": "hbm", "type": "quantitative", "format": ".2f"}}}
    ]
  },
  {
    "width": 1596, "height": 401,
    "data": {"name": "bars"},
    "encoding": {
      "x": {"field": "model", "type": "nominal", "sort": null, "scale": {"paddingInner": 0.32, "paddingOuter": 0.135}, "axis": {"title": null, "labelAngle": 0, "labelExpr": "split(datum.label, '|')", "labelLineHeight": 29, "labelBaseline": "top", "labelPadding": 6.5, "grid": false}},
      "xOffset": {"field": "loss_type", "type": "nominal", "sort": ["Default CE", "CCE"]},
      "y": {"field": "step_time", "type": "quantitative", "scale": {"domain": [0, 0.39795], "nice": false}, "axis": {"title": "Mean step time (sec)", "values": [0, 0.1, 0.2, 0.3], "format": ".1f", "grid": true}}
    },
    "layer": [
      {"mark": {"type": "bar"}, "encoding": {"color": {"field": "loss_type", "type": "nominal", "scale": {"domain": ["Default CE", "CCE"], "range": ["#555555", "#169b79"]}, "legend": {"title": null, "orient": "none", "legendX": 1419.9, "legendY": 17.7, "symbolType": "M-2.15,-0.7H2.15V0.7H-2.15Z", "symbolSize": 400, "symbolStrokeWidth": 0, "symbolOpacity": 1, "labelFontSize": 21, "labelOffset": 25.3, "rowPadding": 8.3, "padding": 0}}}},
      {"mark": {"type": "text", "baseline": "alphabetic", "dy": -9, "fontSize": 21, "color": "black"}, "encoding": {"text": {"field": "step_time", "type": "quantitative", "format": ".3f"}}}
    ]
  },
  {
    "width": 1596, "height": 457,
    "title": {"text": "Loss curves are sanity checks, not translation-quality claims", "fontSize": 31.6, "fontWeight": "normal", "offset": 8.3},
    "data": {"name": "loss"},
    "encoding": {
      "x": {"field": "step", "type": "quantitative", "scale": {"domain": [-50, 1050], "nice": false, "zero": false}, "axis": {"title": "Training step", "values": [0, 200, 400, 600, 800, 1000], "grid": true, "labelPadding": 10, "titlePadding": 7.5}},
      "y": {"field": "loss", "type": "quantitative", "scale": {"domain": [0.36, 6.33], "nice": false, "zero": false}, "axis": {"title": "Smoothed train loss", "values": [1, 2, 3, 4, 5, 6], "grid": true}},
      "color": {"field": "series", "type": "nominal", "scale": {"domain": ["Gemma3 270M Default CE", "Gemma3 270M CCE", "Gemma3 1B Default CE", "Gemma3 1B CCE", "Gemma4 E2B Default CE", "Gemma4 E2B CCE"], "range": ["#555555", "#169b79", "#555555", "#169b79", "#555555", "#169b79"]}, "legend": {"title": null, "orient": "none", "legendX": 937.4, "legendY": 13, "columns": 2, "symbolType": "M-2.2,0H2.2", "symbolSize": 400, "symbolStrokeWidth": 3.7, "labelFontSize": 19.5, "labelOffset": 22.7, "columnPadding": 28, "rowPadding": 6.4, "padding": 0, "encode": {"symbols": {"opacity": {"value": {"expr": "indexof(datum.value, 'E2B') >= 0 ? 0.92 : 0.58"}}}}}},
      "strokeDash": {"field": "series", "type": "nominal", "scale": {"domain": ["Gemma3 270M Default CE", "Gemma3 270M CCE", "Gemma3 1B Default CE", "Gemma3 1B CCE", "Gemma4 E2B Default CE", "Gemma4 E2B CCE"], "range": [[1, 0], [1, 0], [1, 0], [1, 0], [13, 5.5], [13, 5.5]]}, "legend": {"title": null, "orient": "none", "legendX": 937.4, "legendY": 13, "columns": 2, "symbolType": "M-2.2,0H2.2", "symbolSize": 400, "symbolStrokeWidth": 3.7, "labelFontSize": 19.5, "labelOffset": 22.7, "columnPadding": 28, "rowPadding": 6.4, "padding": 0, "encode": {"symbols": {"opacity": {"value": {"expr": "indexof(datum.value, 'E2B') >= 0 ? 0.92 : 0.58"}}}}}}
    },
    "layer": [
      {"transform": [{"filter": {"field": "series", "oneOf": ["Gemma3 270M Default CE", "Gemma3 270M CCE", "Gemma3 1B Default CE", "Gemma3 1B CCE"]}}], "mark": {"type": "line", "strokeWidth": 3.7, "opacity": 0.58}},
      {"transform": [{"filter": {"field": "series", "oneOf": ["Gemma4 E2B Default CE", "Gemma4 E2B CCE"]}}], "mark": {"type": "line", "strokeWidth": 3.7, "opacity": 0.92}}
    ]
  }
]
}
